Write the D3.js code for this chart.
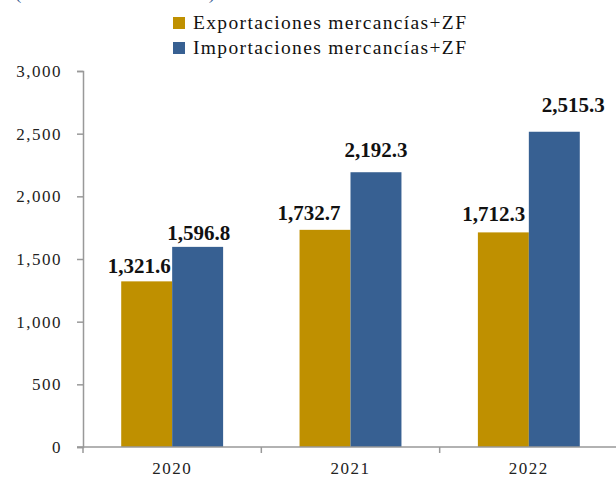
<!DOCTYPE html>
<html>
<head>
<meta charset="utf-8">
<script src="https://cdn.jsdelivr.net/npm/d3@7/dist/d3.min.js"></script>
<style>
  html, body { margin: 0; padding: 0; background: #fff; }
  svg { display: block; }
  text { font-family: "Liberation Serif", "DejaVu Serif", serif; }
</style>
</head>
<body>
<svg id="chart" width="616" height="478"></svg>
<script>
// ---- data ----
const years = ["2020", "2021", "2022"];
const seriesNames = ["Exportaciones mercancías+ZF", "Importaciones mercancías+ZF"];
const exportaciones = [1321.6, 1732.7, 1712.3];
const importaciones = [1596.8, 2192.3, 2515.3];
const yTicks = [0, 500, 1000, 1500, 2000, 2500, 3000];
const titleFragment = "(Millones de dólares)";

// ---- styling / layout constants ----
const colors = ["#BF9000", "#376092"];
const labelDx = [[-7.5, -16, -9.5], [1, 0, 19]];   // manual label nudges (as in source)
const labelGap = [[8.6, 10, 11.4], [7, 15, 20]];

const svg = d3.select("#chart");
const W = 616, H = 478;
const mLeft = 83, mRight = 618, mTop = 71, mBottom = 447;

const x = d3.scaleBand().domain(years).range([mLeft, mRight]).padding(0);
const x1 = d3.scaleBand().domain(d3.range(seriesNames.length)).range([0, x.bandwidth()])
  .paddingInner(0).paddingOuter(0.75);
const y = d3.scaleLinear().domain([0, 3000]).range([mBottom, mTop]);

const series = [exportaciones, importaciones];

// title fragment cut off at the top (as in the reference crop)
svg.append("text")
  .attr("x", 15).attr("y", -1.5)
  .attr("font-size", 19)
  .attr("fill", "#376092")
  .attr("textLength", 200)
  .attr("lengthAdjust", "spacing")
  .text(titleFragment);

// bars
series.forEach((vals, si) => {
  svg.append("g").selectAll("rect")
    .data(vals)
    .join("rect")
    .attr("x", (d, i) => x(years[i]) + x1(si))
    .attr("y", d => y(d))
    .attr("width", x1.bandwidth())
    .attr("height", d => y(0) - y(d))
    .attr("fill", colors[si]);
});

// y axis
const yAxis = d3.axisLeft(y).tickValues(yTicks).tickSize(6).tickPadding(15)
  .tickFormat(d3.format(","));
const gy = svg.append("g").attr("transform", `translate(${mLeft},0)`).call(yAxis);
gy.select(".domain").attr("stroke", "#999").attr("stroke-width", 1.5);
gy.selectAll(".tick line").attr("stroke", "#999").attr("stroke-width", 1.5);
gy.selectAll(".tick text")
  .attr("font-family", "Liberation Serif, serif")
  .attr("font-size", 17)
  .attr("letter-spacing", "1.5px")
  .attr("fill", "#222");

// x axis
const gx = svg.append("g").attr("transform", `translate(0,${mBottom})`);
gx.append("line").attr("x1", mLeft - 6).attr("x2", W).attr("y1", 0).attr("y2", 0)
  .attr("stroke", "#999").attr("stroke-width", 1.5);
gx.selectAll("line.tk").data(years).join("line").attr("class", "tk")
  .attr("x1", d => x(d)).attr("x2", d => x(d)).attr("y1", 0).attr("y2", 6)
  .attr("stroke", "#999").attr("stroke-width", 1.5);
gx.selectAll("text").data(years).join("text")
  .attr("x", d => x(d) + x.bandwidth() / 2)
  .attr("y", 27)
  .attr("text-anchor", "middle")
  .attr("font-size", 17)
  .attr("letter-spacing", "1.5px")
  .attr("fill", "#222")
  .text(d => d);

// data labels
series.forEach((vals, si) => {
  svg.append("g").selectAll("text")
    .data(vals)
    .join("text")
    .attr("x", (d, i) => x(years[i]) + x1(si) + x1.bandwidth() / 2 + labelDx[si][i])
    .attr("y", (d, i) => y(d) - labelGap[si][i])
    .attr("text-anchor", "middle")
    .attr("font-size", 21)
    .attr("font-weight", "bold")
    .attr("fill", "#111")
    .text(d => d3.format(",.1f")(d));
});

// legend
const legend = svg.append("g");
seriesNames.forEach((name, i) => {
  const ly = 17 + i * 25;
  legend.append("rect").attr("x", 173).attr("y", ly).attr("width", 12).attr("height", 12)
    .attr("fill", colors[i]);
  legend.append("text").attr("x", 193).attr("y", ly + 11.5)
    .attr("font-size", 19.5)
    .attr("fill", "#111")
    .attr("textLength", 273)
    .attr("lengthAdjust", "spacing")
    .text(name);
});
</script>
</body>
</html>
